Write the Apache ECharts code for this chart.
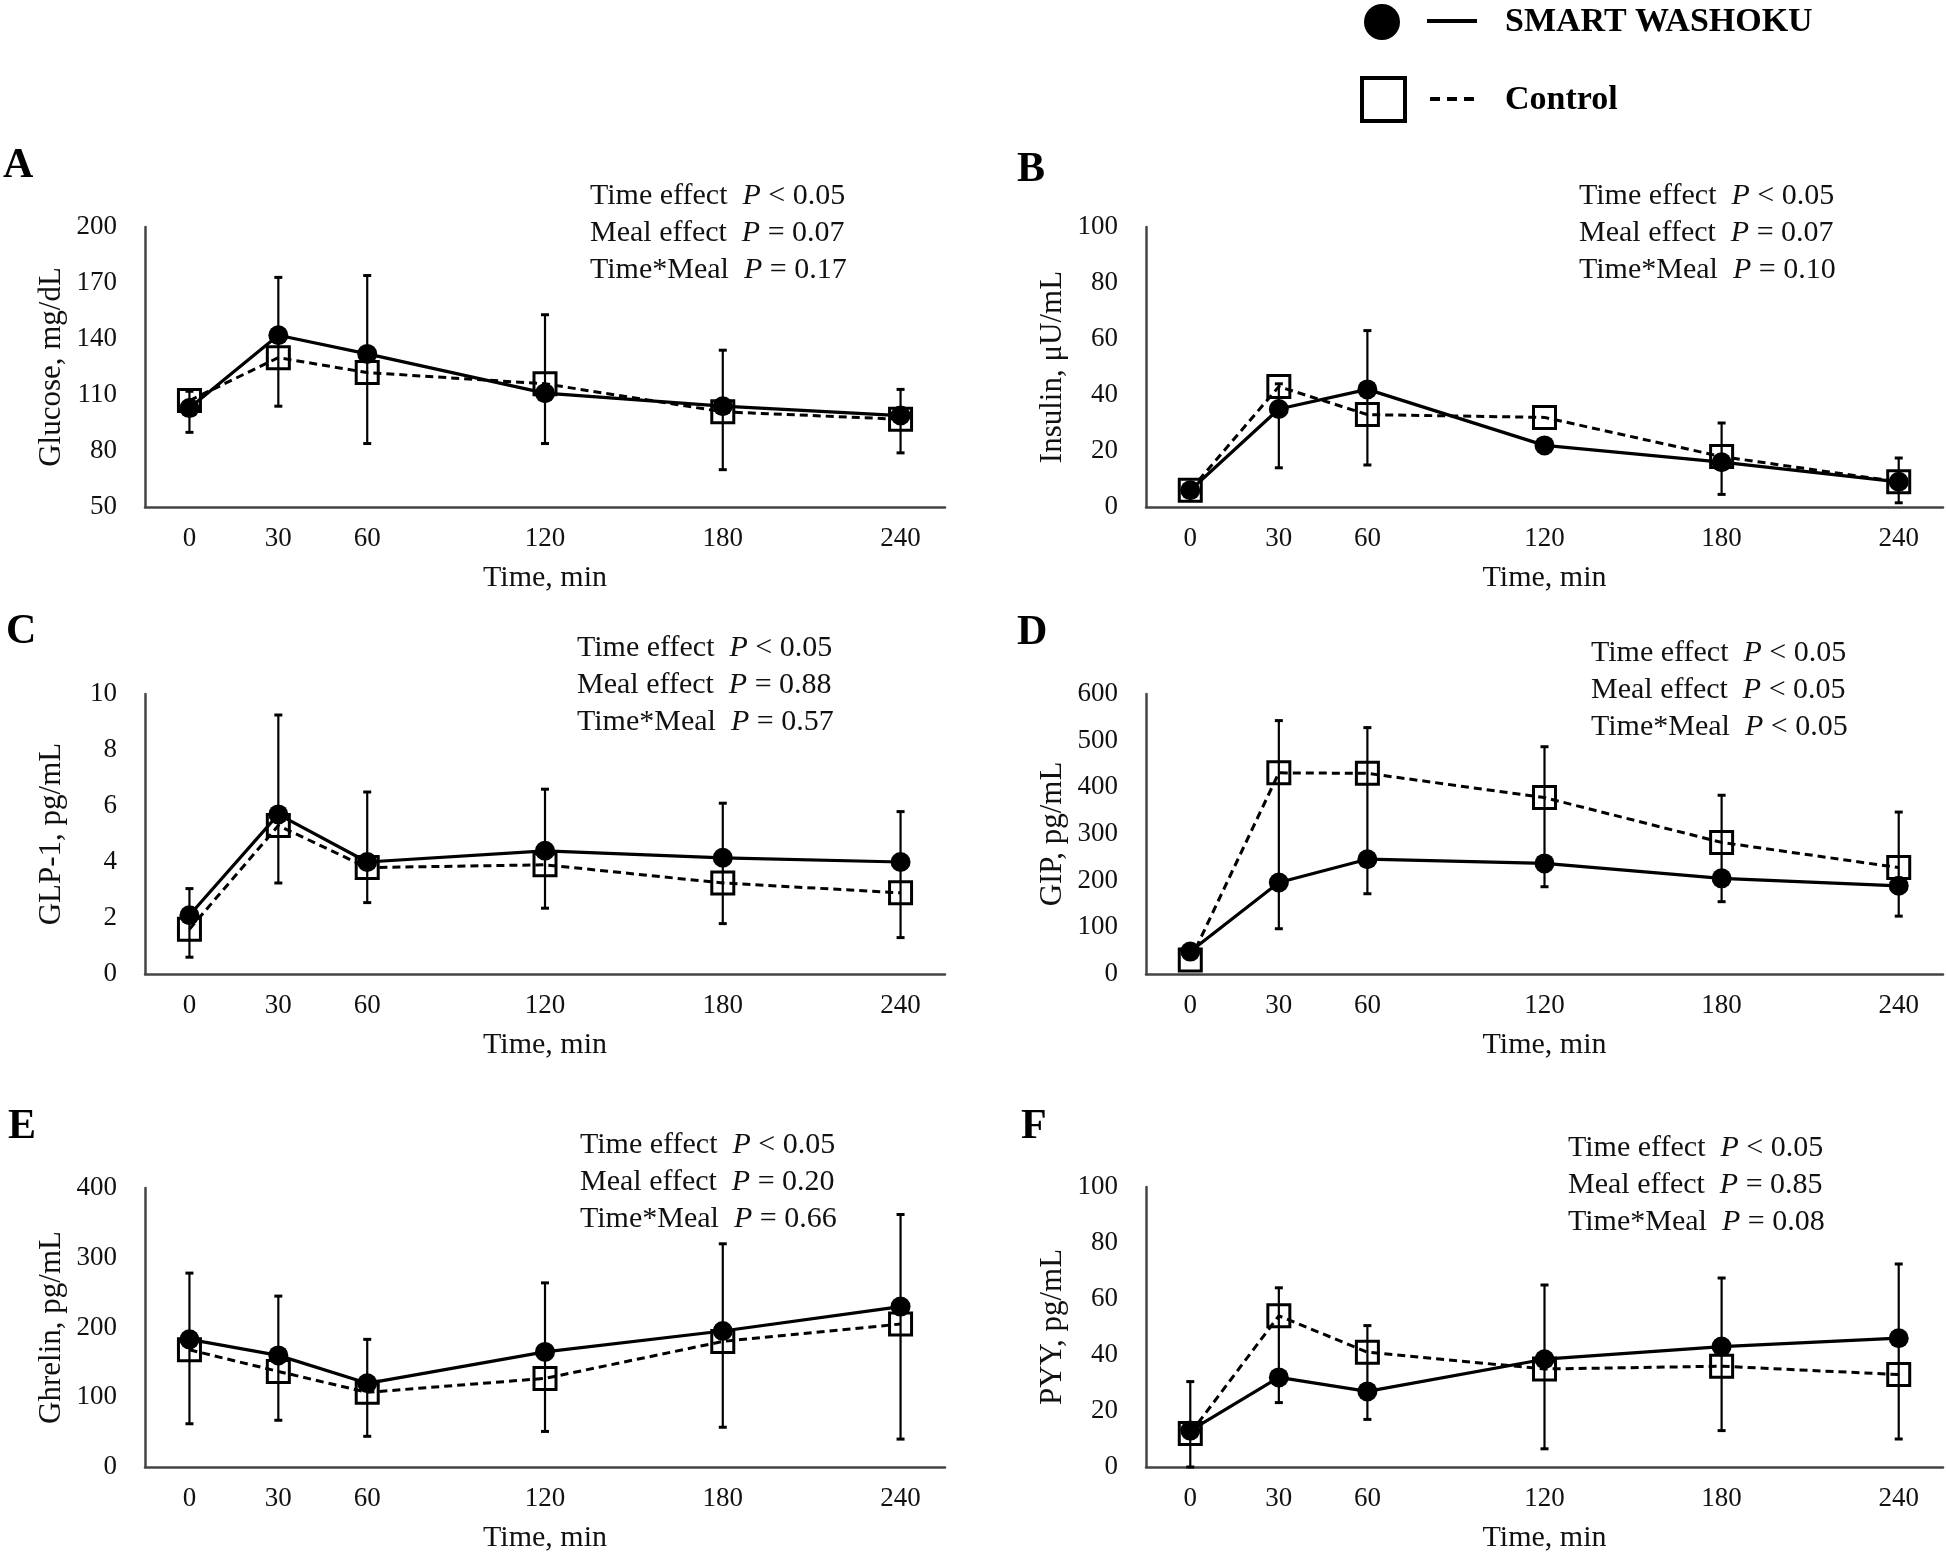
<!DOCTYPE html>
<html>
<head>
<meta charset="utf-8">
<script src="https://cdn.jsdelivr.net/npm/echarts@6/dist/echarts.min.js"></script>
<style>
html,body{margin:0;padding:0;background:#fff;}
#c{width:1946px;height:1558px;}
</style>
</head>
<body>
<div id="c"></div>
<script>
// ---------- data ----------
const timeMin = [0, 30, 60, 120, 180, 240];
const xTickLabels = [0, 30, 60, 120, 180, 240];

const glucoseSW   = [103, 142, 132, 111, 104, 99];
const glucoseCtrl = [107, 130, 122, 116, 101, 97];
const glucoseErrHigh = [112, 173, 174, 153, 134, 113];
const glucoseErrLow  = [90, 104, 84, 84, 70, 79];

const insulinSW   = [6, 35, 42, 22, 16, 9];
const insulinCtrl = [6, 43, 33, 32, 18, 9];
const insulinErrHigh = [null, 44, 63, null, 30, 17.5];
const insulinErrLow  = [null, 14, 15, null, 4.5, 1.5];

const glp1SW   = [2.1, 5.7, 4.0, 4.4, 4.15, 4.0];
const glp1Ctrl = [1.6, 5.3, 3.8, 3.9, 3.25, 2.9];
const glp1ErrHigh = [3.05, 9.25, 6.5, 6.6, 6.1, 5.8];
const glp1ErrLow  = [0.6, 3.25, 2.55, 2.35, 1.8, 1.3];

const gipSW   = [48, 196, 246, 237, 205, 189];
const gipCtrl = [30, 431, 430, 378, 282, 228];
const gipErrHigh = [null, 543, 528, 487, 383, 347];
const gipErrLow  = [null, 97, 172, 187, 155, 124];

const ghrelinSW   = [183, 160, 120, 165, 195, 230];
const ghrelinCtrl = [168, 137, 107, 127, 180, 205];
const ghrelinErrHigh = [278, 245, 183, 264, 320, 362];
const ghrelinErrLow  = [62, 67, 44, 51, 57, 40];

const pyySW   = [13, 32, 27, 38.5, 43, 46];
const pyyCtrl = [12, 54, 41, 35, 36, 33];
const pyyErrHigh = [30.5, 64, 50.5, 65, 67.5, 72.5];
const pyyErrLow  = [0, 23, 17, 6.5, 13, 10];

const statLabels = ['Time effect', 'Meal effect', 'Time*Meal'];
const statsA = ['< 0.05', '= 0.07', '= 0.17'];
const statsB = ['< 0.05', '= 0.07', '= 0.10'];
const statsC = ['< 0.05', '= 0.88', '= 0.57'];
const statsD = ['< 0.05', '< 0.05', '< 0.05'];
const statsE = ['< 0.05', '= 0.20', '= 0.66'];
const statsF = ['< 0.05', '= 0.85', '= 0.08'];

const seriesNames = ['SMART WASHOKU', 'Control'];

// ---------- layout ----------
const FONT = "'Liberation Serif','Times New Roman',serif";
const panels = [
  {letter:'A', yName:'Glucose, mg/dL', yMin:50, yMax:200, yInt:30, sw:glucoseSW, ctrl:glucoseCtrl, hi:glucoseErrHigh, lo:glucoseErrLow, stats:statsA,
   grid:{left:145, top:227, width:800, height:280}, letterPos:[3,166], statPos:[590,196]},
  {letter:'B', yName:'Insulin, μU/mL', yMin:0, yMax:100, yInt:20, sw:insulinSW, ctrl:insulinCtrl, hi:insulinErrHigh, lo:insulinErrLow, stats:statsB,
   grid:{left:1146, top:227, width:800, height:280}, letterPos:[1017,170], statPos:[1579,196]},
  {letter:'C', yName:'GLP-1, pg/mL', yMin:0, yMax:10, yInt:2, sw:glp1SW, ctrl:glp1Ctrl, hi:glp1ErrHigh, lo:glp1ErrLow, stats:statsC,
   grid:{left:145, top:694, width:800, height:280}, letterPos:[6,632], statPos:[577,648]},
  {letter:'D', yName:'GIP, pg/mL', yMin:0, yMax:600, yInt:100, sw:gipSW, ctrl:gipCtrl, hi:gipErrHigh, lo:gipErrLow, stats:statsD,
   grid:{left:1146, top:694, width:800, height:280}, letterPos:[1017,633], statPos:[1591,653]},
  {letter:'E', yName:'Ghrelin, pg/mL', yMin:0, yMax:400, yInt:100, sw:ghrelinSW, ctrl:ghrelinCtrl, hi:ghrelinErrHigh, lo:ghrelinErrLow, stats:statsE,
   grid:{left:145, top:1188, width:800, height:279}, letterPos:[8,1127], statPos:[580,1145]},
  {letter:'F', yName:'PYY, pg/mL', yMin:0, yMax:100, yInt:20, sw:pyySW, ctrl:pyyCtrl, hi:pyyErrHigh, lo:pyyErrLow, stats:statsF,
   grid:{left:1146, top:1187, width:800, height:280}, letterPos:[1021,1127], statPos:[1568,1148]}
];

function errRender(params, api) {
  const x = api.value(0), lo = api.value(1), hi = api.value(2);
  const a = api.coord([x, lo]), b = api.coord([x, hi]);
  const cw = 4;
  return {type:'group', children:[
    {type:'line', shape:{x1:a[0], y1:a[1], x2:b[0], y2:b[1]}, style:{stroke:'#000', lineWidth:2.2}},
    {type:'line', shape:{x1:a[0]-cw, y1:a[1], x2:a[0]+cw, y2:a[1]}, style:{stroke:'#000', lineWidth:3}},
    {type:'line', shape:{x1:b[0]-cw, y1:b[1], x2:b[0]+cw, y2:b[1]}, style:{stroke:'#000', lineWidth:3}}
  ]};
}

const grids = [], xAxes = [], yAxes = [], series = [], graphics = [];
panels.forEach((p, i) => {
  grids.push(Object.assign({containLabel:false}, p.grid));
  xAxes.push({
    type:'value', gridIndex:i, min:-15, max:255, interval:15,
    name:'Time, min', nameLocation:'middle', nameGap:56,
    nameTextStyle:{fontFamily:FONT, fontSize:30, color:'#111'},
    axisLine:{show:true, onZero:false, lineStyle:{color:'#444', width:2.5}},
    axisTick:{show:false}, splitLine:{show:false},
    axisLabel:{fontFamily:FONT, fontSize:27, color:'#111', margin:18,
      showMinLabel:true, showMaxLabel:true,
      formatter: v => xTickLabels.indexOf(v) >= 0 ? String(v) : ''}
  });
  yAxes.push({
    type:'value', gridIndex:i, min:p.yMin, max:p.yMax, interval:p.yInt,
    name:p.yName, nameLocation:'middle', nameGap:78, nameRotate:90,
    nameTextStyle:{fontFamily:FONT, fontSize:31, color:'#111'},
    axisLine:{show:true, onZero:false, lineStyle:{color:'#444', width:2.5}},
    axisTick:{show:false}, splitLine:{show:false},
    axisLabel:{fontFamily:FONT, fontSize:27, color:'#111', margin:28}
  });
  const errData = [];
  timeMin.forEach((t, k) => { if (p.hi[k] != null && p.lo[k] != null) errData.push([t, p.lo[k], p.hi[k]]); });
  series.push({
    type:'custom', xAxisIndex:i, yAxisIndex:i, renderItem:errRender, data:errData,
    encode:{x:0, y:[1,2]}, z:3, silent:true
  });
  series.push({
    type:'line', name:seriesNames[1], xAxisIndex:i, yAxisIndex:i,
    data:timeMin.map((t, k) => [t, p.ctrl[k]]),
    symbol:'rect', symbolSize:22,
    lineStyle:{color:'#000', width:3, type:[8,5]},
    itemStyle:{color:'rgba(0,0,0,0)', borderColor:'#000', borderWidth:3},
    z:4, silent:true, animation:false
  });
  series.push({
    type:'line', name:seriesNames[0], xAxisIndex:i, yAxisIndex:i,
    data:timeMin.map((t, k) => [t, p.sw[k]]),
    symbol:'circle', symbolSize:20,
    lineStyle:{color:'#000', width:3.2},
    itemStyle:{color:'#000', borderColor:'#000', borderWidth:0},
    z:5, silent:true, animation:false
  });
  graphics.push({type:'text', x:p.letterPos[0], y:p.letterPos[1],
    style:{text:p.letter, fontFamily:FONT, fontSize:42, fontWeight:'bold', fill:'#000', verticalAlign:'middle', align:'left'}});
  p.stats.forEach((s, k) => {
    graphics.push({type:'text', x:p.statPos[0], y:p.statPos[1] + k*37,
      style:{text:statLabels[k] + '  {i|P} ' + s, fontFamily:FONT, fontSize:30, fill:'#111',
        verticalAlign:'middle', align:'left',
        rich:{i:{fontFamily:FONT, fontSize:30, fontStyle:'italic', fill:'#111'}}}});
  });
});

// legend
graphics.push(
  {type:'circle', shape:{cx:1382, cy:22, r:18}, style:{fill:'#000'}},
  {type:'line', shape:{x1:1427, y1:21, x2:1477, y2:21}, style:{stroke:'#000', lineWidth:4}},
  {type:'text', x:1505, y:22, style:{text:seriesNames[0], fontFamily:FONT, fontSize:34, fontWeight:'bold', fill:'#000', verticalAlign:'middle'}},
  {type:'rect', shape:{x:1362, y:78, width:43, height:43}, style:{fill:'none', stroke:'#000', lineWidth:4}},
  {type:'line', shape:{x1:1430, y1:99, x2:1477, y2:99}, style:{stroke:'#000', lineWidth:4, lineDash:[10,7]}},
  {type:'text', x:1505, y:100, style:{text:seriesNames[1], fontFamily:FONT, fontSize:34, fontWeight:'bold', fill:'#000', verticalAlign:'middle'}}
);

const chart = echarts.init(document.getElementById('c'), null, {renderer:'canvas'});
chart.setOption({
  backgroundColor:'#fff',
  animation:false,
  grid:grids, xAxis:xAxes, yAxis:yAxes, series:series,
  graphic:graphics
});
</script>
</body>
</html>
